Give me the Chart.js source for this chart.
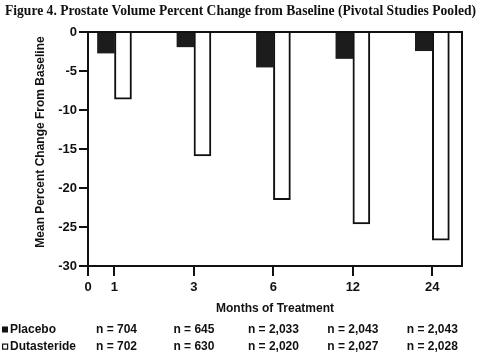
<!DOCTYPE html>
<html>
<head>
<meta charset="utf-8">
<script src="https://cdn.jsdelivr.net/npm/chart.js@4.4.1/dist/chart.umd.min.js"></script>
<style>
  html, body { margin: 0; padding: 0; background: #fff; }
  #wrap { width: 480px; height: 354px; }
</style>
</head>
<body>
<div id="wrap"><canvas id="chart" width="480" height="354"></canvas></div>
<script>
// values
const months = [1, 3, 6, 12, 24];
const placebo = [-2.7, -1.9, -4.5, -3.4, -2.4];
const dutasteride = [-8.6, -15.9, -21.5, -24.6, -26.7];
const placeboN = [704, 645, 2033, 2043, 2043];
const dutasterideN = [702, 630, 2020, 2027, 2028];
const yTicks = [0, -5, -10, -15, -20, -25, -30];

// months sit on an uneven axis: 0, then 1, then evenly spaced after that
const axisPos = i => 1 + 3 * i;

const SANS = '"Liberation Sans", Arial, sans-serif';

// title, plot frame, y title and the n = ... rows under the axis
const extras = {
    id: 'extras',
    afterDraw(chart) {
        const ctx = chart.ctx;
        const area = chart.chartArea;
        const x = chart.scales.x;

        ctx.save();
        // frame top and right
        ctx.strokeStyle = '#111';
        ctx.lineWidth = 2;
        ctx.beginPath();
        ctx.moveTo(area.left, area.top);
        ctx.lineTo(area.right, area.top);
        ctx.lineTo(area.right, area.bottom);
        ctx.stroke();

        // title, squeezed to the width of the original
        const title = 'Figure 4. Prostate Volume Percent Change from Baseline (Pivotal Studies Pooled)';
        ctx.font = 'bold 15px "Liberation Serif", serif';
        const w = ctx.measureText(title).width;
        ctx.fillStyle = '#111';
        ctx.textBaseline = 'alphabetic';
        ctx.textAlign = 'left';
        ctx.save();
        ctx.translate(5, 15);
        ctx.scale(471 / w, 1);
        ctx.fillText(title, 0, 0);
        ctx.restore();

        // y axis title
        ctx.save();
        ctx.translate(41, 142);
        ctx.rotate(-Math.PI / 2);
        ctx.font = 'bold 12px ' + SANS;
        ctx.textAlign = 'center';
        ctx.textBaseline = 'middle';
        ctx.fillText('Mean Percent Change From Baseline', 0, 0);
        ctx.restore();

        // legend rows
        const row1 = 329.5, row2 = 346.5;
        ctx.fillStyle = '#111';
        ctx.fillRect(2, row1 - 3, 6, 6);
        ctx.lineWidth = 1.2;
        ctx.strokeRect(2.6, row2 - 2.4, 5, 5);
        ctx.font = 'bold 12px ' + SANS;
        ctx.textBaseline = 'middle';
        ctx.textAlign = 'left';
        ctx.fillText('Placebo', 10, row1);
        ctx.fillText('Dutasteride', 10, row2);

        ctx.textAlign = 'center';
        months.forEach((m, i) => {
            const px = x.getPixelForValue(axisPos(i)) + (i === 0 ? 2 : 0);
            ctx.fillText('n = ' + placeboN[i].toLocaleString('en-US'), px, row1);
            ctx.fillText('n = ' + dutasterideN[i].toLocaleString('en-US'), px, row2);
        });
        ctx.restore();
    }
};

new Chart(document.getElementById('chart'), {
    type: 'bar',
    data: {
        datasets: [{
            label: 'Placebo',
            data: months.map((m, i) => ({ x: axisPos(i), y: placebo[i] })),
            backgroundColor: '#1c1c1c',
            borderColor: '#1c1c1c',
            borderWidth: 0,
            barThickness: 17
        }, {
            label: 'Dutasteride',
            data: months.map((m, i) => ({ x: axisPos(i), y: dutasteride[i] })),
            backgroundColor: '#ffffff',
            borderColor: '#111',
            borderWidth: 2,
            barThickness: 17
        }]
    },
    options: {
        responsive: false,
        animation: false,
        layout: { padding: { top: 32, right: 18, left: 0, bottom: 0 } },
        plugins: {
            legend: { display: false },
            tooltip: { enabled: false }
        },
        scales: {
            x: {
                type: 'linear',
                offset: false,
                min: 0,
                max: 14.12,
                afterBuildTicks: scale => {
                    scale.ticks = [0].concat(months.map((m, i) => axisPos(i))).map(v => ({ value: v }));
                },
                afterFit: scale => { scale.height = 88; },
                grid: { offset: false, drawOnChartArea: false, tickLength: 10, lineWidth: 2, color: '#111' },
                border: { color: '#111', width: 2 },
                ticks: {
                    color: '#111',
                    padding: 4,
                    maxRotation: 0,
                    font: { family: SANS, size: 13, weight: 'bold' },
                    callback: v => v === 0 ? '0' : String(months[(v - 1) / 3])
                },
                title: {
                    display: true,
                    text: 'Months of Treatment',
                    color: '#111',
                    font: { family: SANS, size: 12, weight: 'bold' },
                    padding: { top: 0, bottom: 38 }
                }
            },
            y: {
                min: -30,
                max: 0,
                afterBuildTicks: scale => {
                    scale.ticks = yTicks.map(v => ({ value: v }));
                },
                afterFit: scale => { scale.width = 88; },
                grid: { drawOnChartArea: false, tickLength: 9, lineWidth: 2, color: '#111' },
                border: { color: '#111', width: 2 },
                ticks: {
                    color: '#111',
                    padding: 2,
                    font: { family: SANS, size: 13, weight: 'bold' }
                }
            }
        }
    },
    plugins: [extras]
});
</script>
</body>
</html>
